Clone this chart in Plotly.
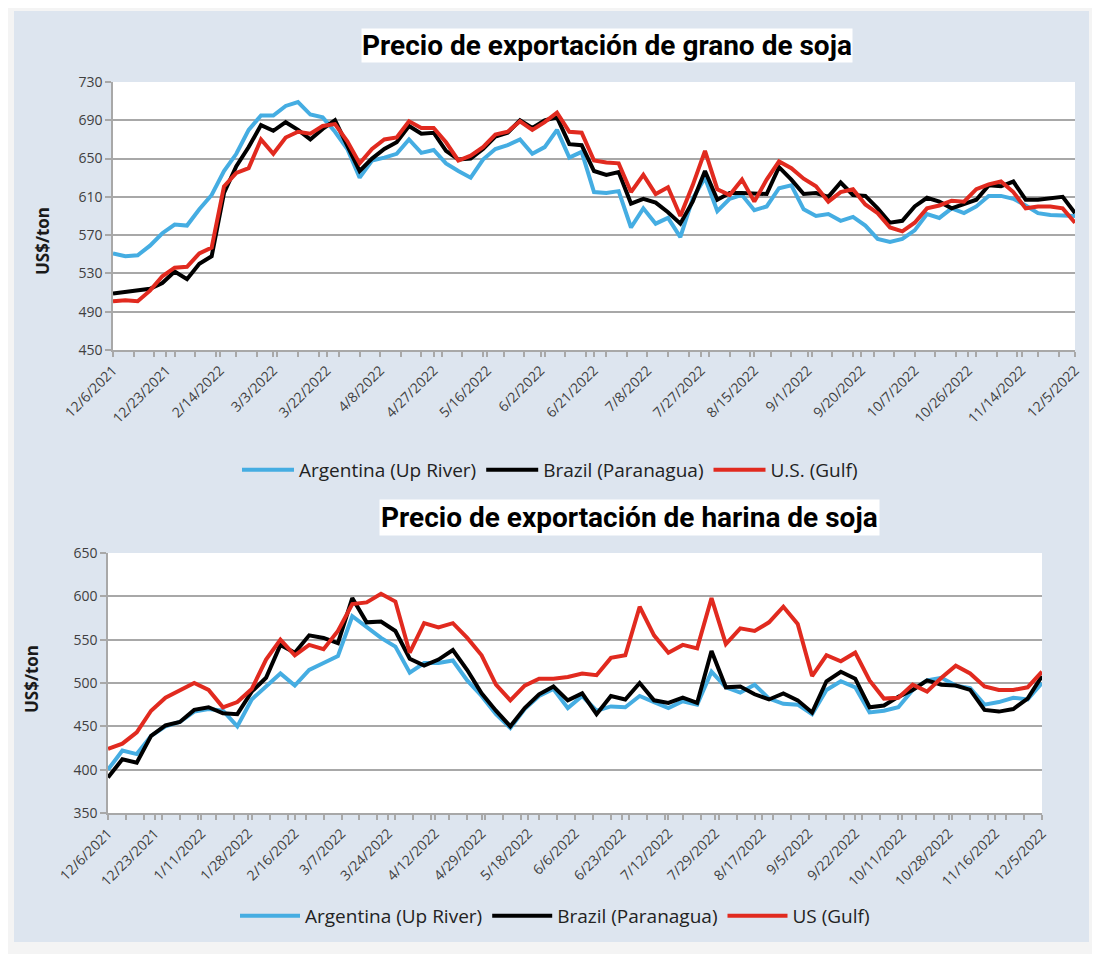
import plotly.graph_objects as go

# The page adds an 8px body margin, so the figure is placed at (8, 8)
OFF = 8
FIG_W, FIG_H = 1100 - OFF, 954 - OFF

# ---------------- data ----------------
top_labels = ["12/6/2021", "12/23/2021", "2/14/2022", "3/3/2022", "3/22/2022", "4/8/2022",
              "4/27/2022", "5/16/2022", "6/2/2022", "6/21/2022", "7/8/2022", "7/27/2022",
              "8/15/2022", "9/1/2022", "9/20/2022", "10/7/2022", "10/26/2022", "11/14/2022",
              "12/5/2022"]
bot_labels = ["12/6/2021", "12/23/2021", "1/11/2022", "1/28/2022", "2/16/2022", "3/7/2022",
              "3/24/2022", "4/12/2022", "4/29/2022", "5/18/2022", "6/6/2022", "6/23/2022",
              "7/12/2022", "7/29/2022", "8/17/2022", "9/5/2022", "9/22/2022", "10/11/2022",
              "10/28/2022", "11/16/2022", "12/5/2022"]

LABEL_EVERY = 13   # trading days between labelled categories
TOP_STEP = 3       # trading days between sampled points (grano)
BOT_STEP = 4       # trading days between sampled points (harina)
MINOR_EVERY = 5

# Soybean (grano) export price, US$/ton
grano_argentina = [551, 548, 549, 559, 572, 581, 580, 597, 612, 637, 655, 680, 695, 695, 705, 709,
                   696, 693, 678, 660, 630, 648, 651, 655, 670, 656, 659, 645, 637, 630, 649, 660,
                   664, 670, 655, 662, 680, 651,
                   657, 615, 614, 616, 578, 598, 582, 588, 568, 608, 630, 595, 608, 612, 596, 600,
                   619, 622, 597, 590, 592, 585, 589, 580, 566, 563, 566, 575, 592, 588, 598, 593,
                   600, 611, 611, 608, 601, 593, 591, 591, 590]
grano_brazil = [509, 511, 512, 514, 520, 532, 524, 540, 548, 614, 642, 662, 685, 679, 688, 680,
                670, 681, 690, 664, 637, 650, 660, 667, 684, 676, 677, 658, 649, 650, 660, 673,
                677, 690, 682, 690, 693, 665,
                664, 637, 633, 636, 603, 608, 604, 594, 582, 605, 637, 607, 614, 614, 614, 613,
                641, 628, 613, 614, 610, 625, 612, 611, 598, 583, 585, 600, 609, 605, 598, 603,
                607, 622, 621, 626, 607, 607, 609, 610, 593]
grano_us = [501, 502, 501, 512, 527, 536, 537, 551, 557, 621, 635, 640, 670, 655, 672, 678,
            676, 684, 686, 668, 645, 660, 670, 672, 689, 682, 682, 667, 648, 653, 662, 675,
            678, 689, 680, 688, 698, 678,
            677, 648, 646, 645, 615, 633, 613, 620, 590, 622, 658, 618, 612, 628, 605, 628,
            647, 640, 629, 621, 605, 615, 618, 602, 593, 578, 574, 583, 598, 601, 606, 605,
            618, 623, 626, 615, 598, 600, 600, 598, 583]

# Soybean meal (harina) export price, US$/ton
harina_argentina = [400, 422, 418, 439, 450, 455, 467, 470, 468, 450, 481, 496, 511, 497, 515, 523,
                    531, 577, 565, 552, 542, 512, 523, 523, 526, 503, 485, 464, 448, 470, 485, 493,
                    471,
                    485, 468, 473, 472, 485, 478, 471, 479, 475, 513, 495, 489, 498, 482, 476, 475,
                    464, 492, 502, 495, 466, 468, 472, 492, 503, 506, 497, 494, 475, 478, 483, 481,
                    500]
harina_brazil = [391, 412, 408, 439, 451, 455, 469, 472, 465, 464, 490, 506, 544, 535, 555, 552,
                 546, 598, 570, 571, 560, 528, 520, 527, 538, 515, 488, 468, 450, 471, 487, 496,
                 480,
                 488, 464, 485, 481, 500, 480, 477, 483, 477, 537, 495, 496, 487, 481, 488, 480,
                 466, 502, 513, 505, 472, 474, 484, 492, 503, 498, 497, 492, 469, 467, 470, 482,
                 508]
harina_us = [424, 430, 443, 468, 483, 492, 500, 492, 472, 478, 493, 527, 550, 532, 544, 539,
             560, 591, 593, 603, 594, 535, 569, 564, 569, 552, 532, 498, 480, 497, 505, 505,
             507,
             511, 509, 529, 532, 588, 555, 535, 544, 540, 598, 545, 563, 560, 570, 588, 568,
             508, 532, 525, 535, 503, 482, 483, 498, 490, 506, 520, 511, 496, 492, 492, 495,
             513]

# ---------------- styling ----------------
BLUE = "#45ade2"
BLACK = "#000000"
RED = "#e12a1f"
GRID = "#a8a8a8"
TICKFONT = "#404040"
PANEL = "#dde5ef"
OUTER = "#f4f4f4"
TITLE_FONT = "Roboto, Liberation Sans Narrow, sans-serif"
LINE_W = 4


def px(xp):
    """page pixel x -> paper fraction"""
    return (xp - OFF) / FIG_W


def py(yp):
    """page pixel y -> paper fraction"""
    return 1 - (yp - OFF) / FIG_H


top_x = [i * TOP_STEP for i in range(len(grano_argentina))]
bot_x = [i * BOT_STEP for i in range(len(harina_argentina))]
top_tickvals = [i * LABEL_EVERY for i in range(len(top_labels))]
bot_tickvals = [i * LABEL_EVERY for i in range(len(bot_labels))]

fig = go.Figure()

series_top = [("Argentina (Up River)", grano_argentina, BLUE),
              ("Brazil (Paranagua)", grano_brazil, BLACK),
              ("U.S. (Gulf)", grano_us, RED)]
series_bot = [("Argentina (Up River)", harina_argentina, BLUE),
              ("Brazil (Paranagua)", harina_brazil, BLACK),
              ("US (Gulf)", harina_us, RED)]

for name, vals, col in series_top:
    fig.add_trace(go.Scatter(x=top_x, y=vals, name=name, mode="lines",
                             line=dict(color=col, width=LINE_W),
                             xaxis="x", yaxis="y", legend="legend"))
for name, vals, col in series_bot:
    fig.add_trace(go.Scatter(x=bot_x, y=vals, name=name, mode="lines",
                             line=dict(color=col, width=LINE_W),
                             xaxis="x2", yaxis="y2", legend="legend2"))


def xaxis_cfg(domain, rng, tickvals, ticktext, anchor):
    return dict(domain=domain, range=rng, anchor=anchor, automargin=False,
                tickmode="array", tickvals=tickvals, ticktext=ticktext,
                tickangle=-45, ticks="outside", ticklen=5, tickwidth=1.5, tickcolor=GRID,
                showline=True, linecolor=GRID, linewidth=1.5, showgrid=False, zeroline=False,
                tickfont=dict(family="Open Sans", size=14, color=TICKFONT),
                minor=dict(tickmode="linear", tick0=0, dtick=MINOR_EVERY, ticks="outside",
                           ticklen=5, tickwidth=1.5, tickcolor=GRID, showgrid=False),
                fixedrange=True)


def yaxis_cfg(domain, rng, dtick, anchor):
    return dict(domain=domain, range=rng, dtick=dtick, tick0=rng[0], anchor=anchor,
                automargin=False,
                ticks="outside", ticklen=6, tickwidth=1.5, tickcolor=GRID,
                showline=True, linecolor=GRID, linewidth=1.5,
                showgrid=True, gridcolor=GRID, gridwidth=2, zeroline=False,
                tickfont=dict(family="Open Sans", size=14, color=TICKFONT),
                fixedrange=True)


top_dx = [px(113), px(1075)]
top_dy = [py(350), py(82)]
bot_dx = [px(108), px(1042)]
bot_dy = [py(813), py(553)]

shapes = []
# light outer frame around the blue-grey panel
for (x0, y0, x1, y1) in [(OFF, OFF, 14, 954), (1089, OFF, 1100, 954),
                         (OFF, OFF, 1100, 11), (OFF, 942, 1100, 954)]:
    shapes.append(dict(type="rect", xref="paper", yref="paper", x0=px(x0), x1=px(x1),
                       y0=py(y1), y1=py(y0), fillcolor=OUTER, line=dict(width=0), layer="below"))

annotations = [
    dict(text="<b>Precio de exportación de grano de soja</b>", x=px(607), y=py(45),
         xref="paper", yref="paper", showarrow=False, xanchor="center", yanchor="middle",
         font=dict(family=TITLE_FONT, size=28, color="#000000"), bgcolor="white", borderpad=0),
    dict(text="<b>Precio de exportación de harina de soja</b>", x=px(629), y=py(517),
         xref="paper", yref="paper", showarrow=False, xanchor="center", yanchor="middle",
         font=dict(family=TITLE_FONT, size=28, color="#000000"), bgcolor="white", borderpad=1),
    dict(text="<b>US$/ton</b>", x=px(42), y=py(241), xref="paper", yref="paper",
         showarrow=False, textangle=-90, xanchor="center", yanchor="middle",
         font=dict(family="Open Sans", size=17, color="#1a1a1a")),
    dict(text="<b>US$/ton</b>", x=px(31), y=py(679), xref="paper", yref="paper",
         showarrow=False, textangle=-90, xanchor="center", yanchor="middle",
         font=dict(family="Open Sans", size=17, color="#1a1a1a")),
]

legend_common = dict(orientation="h", xanchor="center", yanchor="middle",
                     bgcolor="rgba(0,0,0,0)", itemclick=False, itemdoubleclick=False,
                     font=dict(family="Open Sans", size=19, color="#222222"),
                     tracegroupgap=0)

fig.update_layout(
    width=FIG_W, height=FIG_H,
    margin=dict(l=0, r=0, t=0, b=0, pad=0, autoexpand=False),
    paper_bgcolor=PANEL, plot_bgcolor="white",
    showlegend=True,
    xaxis=xaxis_cfg(top_dx, [0, (len(top_labels) - 1) * LABEL_EVERY], top_tickvals, top_labels, "y"),
    yaxis=yaxis_cfg(top_dy, [450, 730], 40, "x"),
    xaxis2=xaxis_cfg(bot_dx, [0, (len(bot_labels) - 1) * LABEL_EVERY], bot_tickvals, bot_labels, "y2"),
    yaxis2=yaxis_cfg(bot_dy, [350, 650], 50, "x2"),
    legend=dict(x=px(550), y=py(470), itemwidth=52, **legend_common),
    legend2=dict(x=px(555), y=py(916), itemwidth=60, **legend_common),
    shapes=shapes,
    annotations=annotations,
    hovermode=False,
)

fig.write_html("out.html")
